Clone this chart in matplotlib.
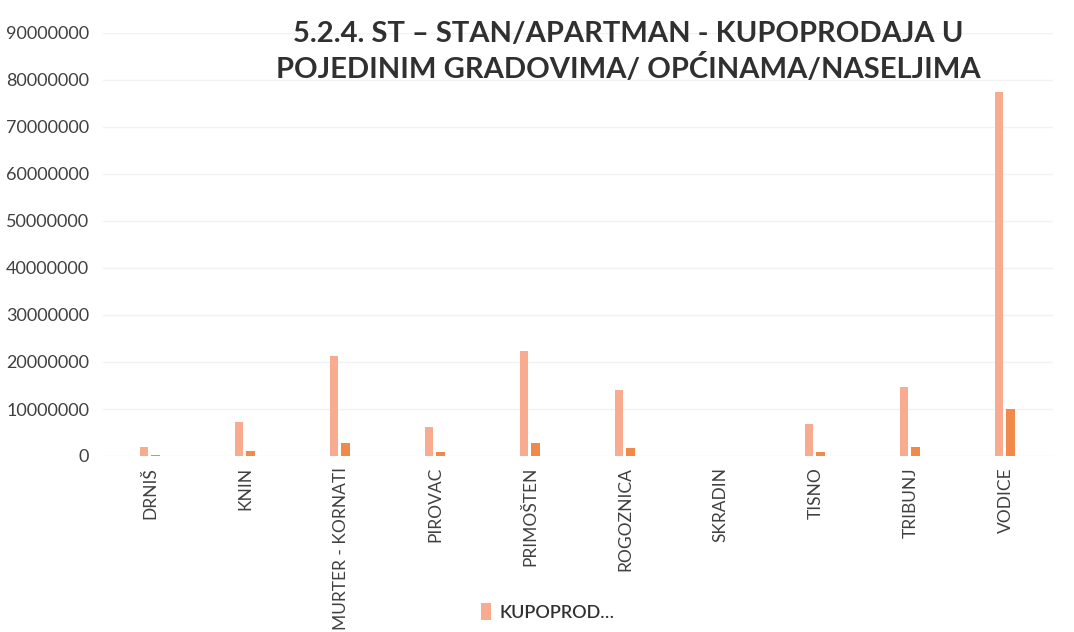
import matplotlib
matplotlib.use("Agg")
import matplotlib.pyplot as plt
import numpy as np

categories = ["DRNIŠ", "KNIN", "MURTER - KORNATI", "PIROVAC", "PRIMOŠTEN",
              "ROGOZNICA", "SKRADIN", "TISNO", "TRIBUNJ", "VODICE"]
series_a = [1900000, 7200000, 21300000, 6200000, 22300000,
            14000000, 0, 6800000, 14700000, 77400000]
series_b = [300000, 1000000, 2800000, 800000, 2800000,
            1800000, 0, 800000, 2000000, 10000000]
yticks = [0, 10000000, 20000000, 30000000, 40000000, 50000000,
          60000000, 70000000, 80000000, 90000000]
title = "5.2.4. ST – STAN/APARTMAN - KUPOPRODAJA U\nPOJEDINIM GRADOVIMA/ OPĆINAMA/NASELJIMA"
legend_label = "KUPOPROD…"

plt.rcParams['font.family'] = ['Lato', 'DejaVu Sans']

fig = plt.figure(figsize=(10.74, 6.32), dpi=100)
ax = fig.add_axes([103/1074, 1-456/632, 950/1074, 423/632])

x = np.arange(len(categories))
w = 0.09
ax.bar(x - 0.07, series_a, width=w, color='#F8AB8E', label=legend_label, zorder=3)
ax.bar(x + 0.05, series_b, width=w, color='#F08A4B', zorder=3)

ax.set_xlim(-0.5, len(categories) - 0.5)
ax.set_ylim(0, 90000000)
ax.set_yticks(yticks)
ax.set_yticklabels([str(v) for v in yticks], fontsize=13, color='#404040')
ax.set_xticks(x)
ax.set_xticklabels(categories, rotation=90, fontsize=12.5, color='#404040')
ax.tick_params(length=0, pad=10)
ax.tick_params(axis='x', pad=8)
for s in ax.spines.values():
    s.set_visible(False)
ax.grid(axis='y', color='#F2F2F2', linewidth=1, zorder=0)

fig.text(628/1074, 1-52/632, title, ha='center', va='center', fontsize=21,
         fontweight='bold', color='#303030', linespacing=1.25)

ax.legend(loc='center', bbox_to_anchor=(548/1074, 1-612/632), bbox_transform=fig.transFigure,
          frameon=False, prop={'size': 13, 'weight': 'semibold'}, handlelength=0.5,
          handleheight=1.0, handletextpad=0.5, labelcolor='#303030')

fig.savefig("out.png", dpi=100, facecolor='white')
